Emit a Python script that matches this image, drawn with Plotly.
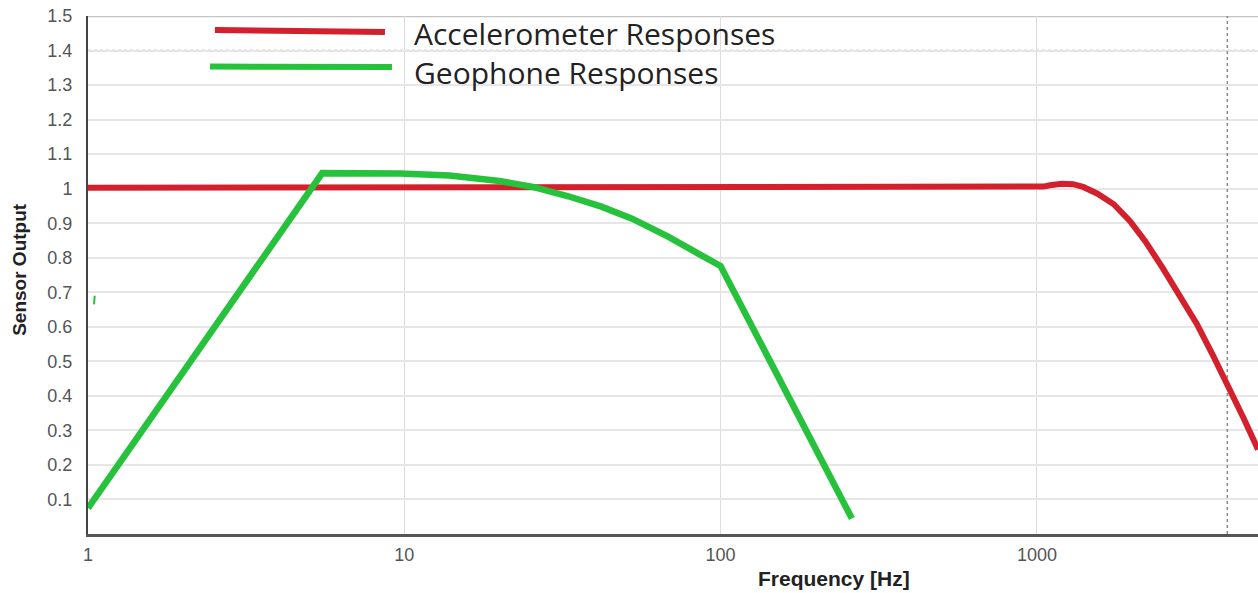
import plotly.graph_objects as go

# ---- data ----
accel_freq = [1, 10, 100, 1000, 1050, 1100, 1200, 1300, 1400, 1550, 1750, 1970, 2200, 2500,
              2850, 3200, 3600, 4000, 4500, 5000]
accel_resp = [1.003, 1.003, 1.003, 1.003, 1.006, 1.010, 1.014, 1.013, 1.005, 0.986, 0.955, 0.906,
              0.848, 0.770, 0.688, 0.609, 0.518, 0.436, 0.336, 0.245]

geo_freq = [1, 5.5, 9.7, 13.9, 20, 25.5, 33, 42, 52.5, 68, 85, 100, 260]
geo_resp = [0.075, 1.045, 1.044, 1.038, 1.022, 1.005, 0.978, 0.948, 0.913, 0.862, 0.812, 0.776, 0.045]

artifact_freq = [1.045, 1.05]
artifact_resp = [0.665, 0.69]

ref_line_freq = [4000, 4000]
ref_line_resp = [0, 1.5]

x_tickvals = [1, 10, 100, 1000]
x_ticktext = ["1", "10", "100", "1000"]
y_tickvals = [0.1, 0.2, 0.3, 0.4, 0.5, 0.6, 0.7, 0.8, 0.9, 1.0, 1.1, 1.2, 1.3, 1.4, 1.5]
y_ticktext = ["0.1", "0.2", "0.3", "0.4", "0.5", "0.6", "0.7", "0.8", "0.9", "1",
              "1.1", "1.2", "1.3", "1.4", "1.5"]

series_names = ["Accelerometer Responses", "Geophone Responses"]
RED = "#d3202c"
GREEN = "#27c23c"

fig = go.Figure()

fig.add_trace(go.Scatter(x=ref_line_freq, y=ref_line_resp, mode="lines",
                         line=dict(color="#8a8a8a", width=1.5, dash="dot"),
                         showlegend=False, hoverinfo="skip"))
fig.add_trace(go.Scatter(x=accel_freq, y=accel_resp, mode="lines", name=series_names[0],
                         line=dict(color=RED, width=6), showlegend=False))
fig.add_trace(go.Scatter(x=geo_freq, y=geo_resp, mode="lines", name=series_names[1],
                         line=dict(color=GREEN, width=6.5), showlegend=False))
fig.add_trace(go.Scatter(x=artifact_freq, y=artifact_resp, mode="lines",
                         line=dict(color=GREEN, width=2),
                         showlegend=False, hoverinfo="skip"))

tick_font = dict(family="Liberation Sans, Arial", size=18, color="#555555")

fig.update_xaxes(type="log", range=[0, 3.699],
                 tickvals=x_tickvals, ticktext=x_ticktext, tickfont=tick_font,
                 showgrid=True, gridcolor="#dcdcdc", gridwidth=1,
                 showline=True, linecolor="#555555", linewidth=2.5,
                 ticks="", ticklabelstandoff=3, zeroline=False)
fig.update_yaxes(range=[0, 1.5],
                 tickvals=y_tickvals, ticktext=y_ticktext, tickfont=tick_font,
                 showgrid=True, gridcolor="#e6e6e6", gridwidth=2,
                 showline=True, linecolor="#444444", linewidth=2,
                 ticks="", ticklabelstandoff=10, zeroline=False)

# darker dotted gridline at 1.4 and top border at 1.5
fig.add_shape(type="line", xref="paper", yref="y", x0=0, x1=1, y0=1.4, y1=1.4,
              line=dict(color="#9a9a9a", width=1.5, dash="dot"), layer="below")
fig.add_shape(type="line", xref="paper", yref="y", x0=0, x1=1, y0=1.5, y1=1.5,
              line=dict(color="#c4c4c4", width=2.5), layer="below")

# custom legend (line samples + one two-line text block)
legend_font = dict(family="Open Sans, Noto Sans", size=30, color="#222222")
fig.add_shape(type="line", xref="paper", yref="paper", x0=0.1085, x1=0.2538, y0=0.973, y1=0.969,
              line=dict(color=RED, width=6))
fig.add_shape(type="line", xref="paper", yref="paper", x0=0.1043, x1=0.2598, y0=0.9025, y1=0.9015,
              line=dict(color=GREEN, width=6))
fig.add_annotation(text=series_names[0] + "<br>" + series_names[1],
                   xref="paper", yref="paper", x=0.2765, y=0.9295,
                   xanchor="left", yanchor="middle", align="left",
                   showarrow=False, font=legend_font)

# axis titles
title_font = dict(family="Liberation Sans, Arial", color="#222222")
fig.add_annotation(text="<b>Frequency [Hz]</b>", xref="paper", yref="paper", x=0.638, y=0,
                   yshift=-44, xanchor="center", yanchor="middle", showarrow=False,
                   font=dict(size=21, **title_font))
fig.add_annotation(text="<b>Sensor Output</b>", xref="paper", yref="paper", x=0, y=0.51,
                   xshift=-68, xanchor="center", yanchor="middle", textangle=-90,
                   showarrow=False, font=dict(size=19, **title_font))

fig.update_layout(width=1258, height=593,
                  margin=dict(l=88, r=0, t=16, b=59),
                  paper_bgcolor="white", plot_bgcolor="white",
                  showlegend=False)

fig.write_html("out.html", config={"displayModeBar": False},
               post_script="document.body.style.margin='0';")
